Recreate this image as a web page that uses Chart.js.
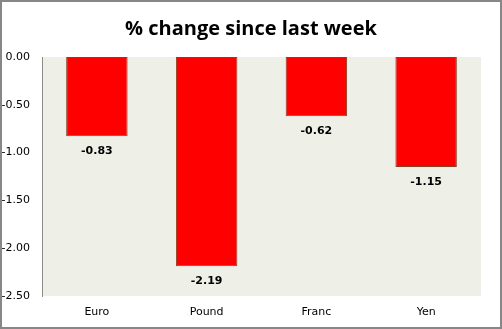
<!DOCTYPE html>
<html>
<head>
<meta charset="utf-8">
<script src="https://cdn.jsdelivr.net/npm/chart.js@4.4.0/dist/chart.umd.min.js"></script>
<style>
  html, body { margin: 0; padding: 0; background: #fff; }
  #wrap { width: 502px; height: 329px; position: relative; }
  canvas { display: block; }
</style>
</head>
<body>
<div id="wrap"><canvas id="chart" width="502" height="329"></canvas></div>
<script>
const currencies = ["Euro", "Pound", "Franc", "Yen"];
const weeklyChange = [-0.83, -2.19, -0.62, -1.15];
const yTicks = [0, -0.5, -1, -1.5, -2, -2.5];

const labelFont = "'DejaVu Sans', Tahoma, sans-serif";

// plot background + outer frame
const frame = {
  id: "frame",
  beforeDraw(chart) {
    const { ctx, chartArea: a } = chart;
    ctx.save();
    ctx.fillStyle = "#eef0e8";
    ctx.fillRect(a.left, a.top, a.right - a.left, a.bottom - a.top);
    ctx.restore();
  },
  afterDraw(chart) {
    const ctx = chart.ctx;
    ctx.save();
    ctx.strokeStyle = "#878787";
    ctx.lineWidth = 2;
    ctx.strokeRect(1, 1, chart.width - 2, chart.height - 2);
    ctx.restore();
  }
};

// value under each bar
const valueLabels = {
  id: "valueLabels",
  afterDatasetsDraw(chart) {
    const ctx = chart.ctx;
    const meta = chart.getDatasetMeta(0);
    ctx.save();
    ctx.font = "bold 11px " + labelFont;
    ctx.fillStyle = "#000";
    ctx.textAlign = "center";
    ctx.textBaseline = "middle";
    meta.data.forEach((bar, i) => {
      ctx.fillText(weeklyChange[i].toFixed(2), bar.x, bar.y + 15);
    });
    ctx.restore();
  }
};

new Chart(document.getElementById("chart"), {
  type: "bar",
  data: {
    labels: currencies,
    datasets: [{
      data: weeklyChange,
      backgroundColor: "#ff0000",
      borderColor: "#8a4025",
      borderWidth: 1,
      borderSkipped: false,
      barPercentage: 1,
      categoryPercentage: 0.56
    }]
  },
  options: {
    responsive: false,
    animation: false,
    devicePixelRatio: 1,
    layout: { padding: 0 },
    plugins: {
      legend: { display: false },
      tooltip: { enabled: false },
      title: {
        display: true,
        text: "% change since last week",
        color: "#000",
        font: { family: "'Open Sans', sans-serif", size: 20, weight: "bold", lineHeight: 1.2 },
        padding: { top: 17, bottom: 16 }
      }
    },
    scales: {
      x: {
        grid: { display: false, drawTicks: false },
        border: { display: false },
        ticks: { color: "#000", font: { family: labelFont, size: 11 }, padding: 10 },
        afterFit(scale) { scale.height = 33; }
      },
      y: {
        min: -2.5,
        max: 0,
        afterBuildTicks(scale) { scale.ticks = yTicks.map(v => ({ value: v })); },
        grid: { display: false, drawTicks: false },
        border: { display: true, color: "#8c8c8c", width: 1 },
        ticks: {
          color: "#000",
          autoSkip: false,
          font: { family: labelFont, size: 11 },
          padding: 12,
          callback: v => v.toFixed(2)
        },
        afterFit(scale) { scale.width = 42; }
      },
      // empty right-hand gutter so the title stays centred on the canvas
      gutter: {
        position: "right",
        grid: { display: false, drawTicks: false },
        border: { display: false },
        ticks: { display: false },
        afterFit(scale) { scale.width = 21; }
      }
    }
  },
  plugins: [frame, valueLabels]
});
</script>
</body>
</html>
